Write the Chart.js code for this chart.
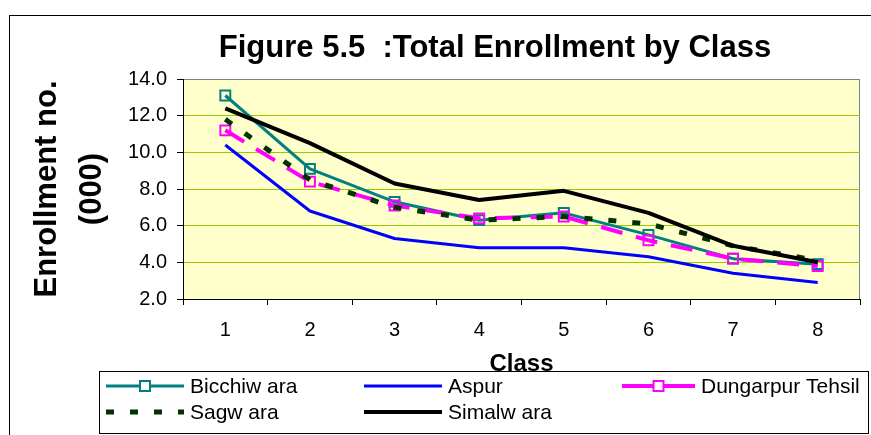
<!DOCTYPE html>
<html>
<head>
<meta charset="utf-8">
<script src="https://cdn.jsdelivr.net/npm/chart.js@4"></script>
<style>
  html, body { margin: 0; padding: 0; background: #fff; }
  #wrap { width: 871px; height: 435px; position: relative; }
</style>
</head>
<body>
<div id="wrap"><canvas id="enrollment-graph"></canvas></div>
<script>
var classLabels = ['1', '2', '3', '4', '5', '6', '7', '8'];
var yTicks = [2, 4, 6, 8, 10, 12, 14];

var bicchiwara = [13.1, 9.1, 7.3, 6.3, 6.7, 5.5, 4.2, 3.9];
var aspur = [10.4, 6.8, 5.3, 4.8, 4.8, 4.3, 3.4, 2.9];
var dungarpur = [11.2, 8.4, 7.1, 6.4, 6.5, 5.2, 4.2, 3.8];
var sagwara = [11.8, 8.5, 7.0, 6.3, 6.5, 6.1, 4.9, 4.1];
var simalwara = [12.4, 10.5, 8.3, 7.4, 7.9, 6.7, 4.9, 4.0];

var chartTitle = 'Figure 5.5  :Total Enrollment by Class';
var FONT = "'Liberation Sans', Arial, sans-serif";

Chart.defaults.font.family = FONT;
Chart.defaults.color = '#000';

// plot background, outer frame and title
var framePlugin = {
    id: 'frame',
    beforeDraw: function (chart) {
        var ctx = chart.ctx;
        var a = chart.chartArea;
        ctx.save();
        ctx.fillStyle = '#fff';
        ctx.fillRect(0, 0, chart.width, chart.height);
        ctx.fillStyle = '#FFFFCC';
        ctx.fillRect(a.left, a.top, a.right - a.left, a.bottom - a.top);
        ctx.strokeStyle = '#808080';
        ctx.lineWidth = 1;
        ctx.beginPath();
        ctx.moveTo(Math.round(a.right) - 0.5, a.top);
        ctx.lineTo(Math.round(a.right) - 0.5, a.bottom);
        ctx.stroke();
        ctx.strokeStyle = '#000';
        ctx.strokeRect(9.5, 15.5, 1000, 1000);
        ctx.font = 'bold 31px ' + FONT;
        ctx.textAlign = 'center';
        ctx.textBaseline = 'alphabetic';
        ctx.fillStyle = '#000';
        ctx.fillText(chartTitle, 495, 57);
        ctx.restore();
    }
};

// legend box drawn below the axis, two rows of three columns
var legendPlugin = {
    id: 'boxLegend',
    afterDraw: function (chart) {
        var ctx = chart.ctx;
        var cols = [106, 364, 622];
        var rows = [386, 412];
        ctx.save();
        ctx.strokeStyle = '#000';
        ctx.lineWidth = 1;
        ctx.strokeRect(99.5, 371.5, 769, 62);
        ctx.font = '21px ' + FONT;
        ctx.textBaseline = 'middle';
        ctx.textAlign = 'left';
        chart.data.datasets.forEach(function (ds, i) {
            var x = cols[i % 3];
            var y = rows[Math.floor(i / 3)];
            var len = i === 2 ? 73 : 78;
            ctx.save();
            ctx.strokeStyle = ds.borderColor;
            ctx.lineWidth = ds.borderWidth;
            // marker series show a solid sample line
            ctx.setLineDash(ds.pointRadius > 0 ? [] : (ds.borderDash || []));
            ctx.beginPath();
            ctx.moveTo(x, y);
            ctx.lineTo(x + len, y);
            ctx.stroke();
            ctx.restore();
            if (ds.pointRadius > 0) {
                var s = 5;
                var mx = x + len / 2;
                ctx.fillStyle = '#fff';
                ctx.fillRect(mx - s, y - s, s * 2, s * 2);
                ctx.strokeStyle = ds.borderColor;
                ctx.lineWidth = 2;
                ctx.strokeRect(mx - s, y - s, s * 2, s * 2);
            }
            ctx.fillStyle = '#000';
            ctx.fillText(ds.label, x + len + 6, y + 1);
        });
        ctx.restore();
    }
};

function lineSet(label, data, color, width, dash, marker, order) {
    return {
        label: label,
        data: data,
        borderColor: color,
        backgroundColor: color,
        borderWidth: width,
        borderDash: dash,
        borderJoinStyle: 'round',
        tension: 0,
        pointStyle: 'rect',
        pointRadius: marker ? 7 : 0,
        pointHoverRadius: marker ? 7 : 0,
        pointBorderColor: color,
        pointBorderWidth: 2,
        pointBackgroundColor: 'rgba(0,0,0,0)',
        order: order
    };
}

var dataSets = [
    lineSet('Bicchiw ara', bicchiwara, '#008080', 3, [], true, 5),
    lineSet('Aspur', aspur, '#0000FF', 3, [], false, 4),
    lineSet('Dungarpur Tehsil', dungarpur, '#FF00FF', 4, [22, 14], true, 3),
    lineSet('Sagw ara', sagwara, '#003300', 5, [8, 16], false, 2),
    lineSet('Simalw ara', simalwara, '#000000', 4, [], false, 1)
];

var ctx = document.getElementById('enrollment-graph').getContext('2d');

var enrollmentChart = new Chart(ctx, {
    type: 'line',
    data: {
        labels: classLabels,
        datasets: dataSets
    },
    plugins: [framePlugin, legendPlugin],
    options: {
        responsive: true,
        maintainAspectRatio: false,
        devicePixelRatio: 1,
        animation: false,
        layout: {
            padding: { top: 79, right: 11, bottom: 56, left: 0 }
        },
        scales: {
            x: {
                offset: true,
                afterFit: function (scale) { scale.height = 80; },
                grid: {
                    offset: true,
                    drawOnChartArea: false,
                    drawTicks: true,
                    tickLength: 6,
                    tickColor: '#000'
                },
                border: { display: true, color: '#000', width: 1 },
                ticks: {
                    padding: 13,
                    maxRotation: 0,
                    font: { size: 20 }
                },
                title: {
                    display: true,
                    text: 'Class',
                    padding: { top: 0, bottom: 0 },
                    font: { size: 24, weight: 'bold' }
                }
            },
            y: {
                min: 2,
                max: 14,
                afterFit: function (scale) { scale.width = 183; },
                afterBuildTicks: function (scale) {
                    scale.ticks = yTicks.map(function (v) { return { value: v }; });
                },
                grid: {
                    color: function (c) {
                        return c.tick && c.tick.value === 14 ? '#808080' : '#99CC00';
                    },
                    lineWidth: 1,
                    drawTicks: true,
                    tickLength: 6,
                    tickColor: '#000'
                },
                border: { display: true, color: '#000', width: 1 },
                ticks: {
                    padding: 10,
                    font: { size: 20 },
                    callback: function (v) { return Number(v).toFixed(1); }
                },
                title: {
                    display: true,
                    text: ['Enrollment no.', '(000)'],
                    padding: { top: 25, bottom: 0 },
                    font: { size: 31, weight: 'bold', lineHeight: 1.45 }
                }
            }
        },
        plugins: {
            legend: { display: false },
            title: { display: false },
            tooltip: { enabled: false }
        }
    }
});
</script>
</body>
</html>
